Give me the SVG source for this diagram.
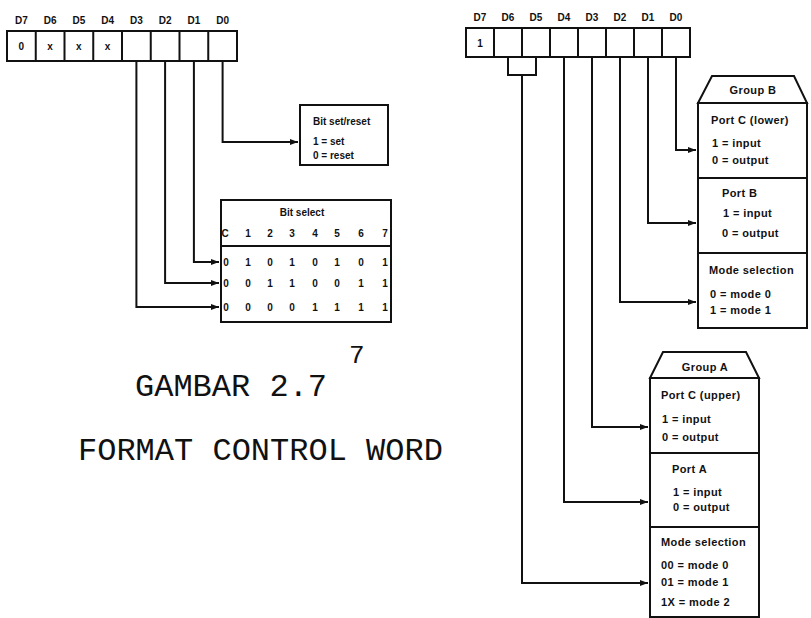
<svg xmlns="http://www.w3.org/2000/svg" width="811" height="618" viewBox="0 0 811 618">
<style>
.bx{fill:none;stroke:#111;stroke-width:2}
.ln{fill:none;stroke:#111;stroke-width:2}
.t{font-family:"Liberation Sans",Arial,sans-serif;font-weight:bold;fill:#111}
.s10{font-size:10px}
.s11{font-size:11px;letter-spacing:0.4px}
.c{text-anchor:middle}
.cap{font-family:"Liberation Mono","Courier New",monospace;fill:#111;font-size:32px}
</style>
<defs>
<marker id="ah" markerWidth="8" markerHeight="6" refX="8" refY="3" orient="auto" markerUnits="userSpaceOnUse"><path d="M0,0 L8,3 L0,6 z" fill="#111"/></marker>
</defs>
<rect width="811" height="618" fill="#fff"/>

<g id="reg-left">
<rect class="bx" x="7" y="31" width="230" height="30"/>
<path class="ln" d="M35.75,31V61M64.5,31V61M93.25,31V61M122,31V61M150.75,31V61M179.5,31V61M208.25,31V61"/>
<g class="t s10 c">
<text x="21.4" y="24">D7</text><text x="50.1" y="24">D6</text><text x="78.9" y="24">D5</text><text x="107.6" y="24">D4</text>
<text x="136.4" y="24">D3</text><text x="165.1" y="24">D2</text><text x="193.9" y="24">D1</text><text x="222.6" y="24">D0</text>
<text x="21.4" y="50">0</text><text x="50.1" y="50">x</text><text x="78.9" y="50">x</text><text x="107.6" y="50">x</text>
</g>
</g>

<g id="bit-set-reset">
<rect class="bx" x="300" y="105" width="88" height="60"/>
<g class="t s10"><text x="313" y="125">Bit set/reset</text><text x="313" y="145">1 = set</text><text x="313" y="159">0 = reset</text></g>
</g>

<g id="bit-select">
<rect class="bx" x="221" y="200" width="170" height="122"/>
<path class="ln" d="M221,246H391"/>
<g class="t s10 c">
<text x="302" y="216">Bit select</text>
<text x="225" y="237">C</text><text x="248" y="237">1</text><text x="270" y="237">2</text><text x="292" y="237">3</text><text x="315" y="237">4</text><text x="337" y="237">5</text><text x="361" y="237">6</text><text x="385" y="237">7</text>
<text x="226" y="266">0</text><text x="248" y="266">1</text><text x="270" y="266">0</text><text x="292" y="266">1</text><text x="315" y="266">0</text><text x="337" y="266">1</text><text x="361" y="266">0</text><text x="385" y="266">1</text>
<text x="226" y="287">0</text><text x="248" y="287">0</text><text x="270" y="287">1</text><text x="292" y="287">1</text><text x="315" y="287">0</text><text x="337" y="287">0</text><text x="361" y="287">1</text><text x="385" y="287">1</text>
<text x="226" y="311">0</text><text x="248" y="311">0</text><text x="270" y="311">0</text><text x="292" y="311">0</text><text x="315" y="311">1</text><text x="337" y="311">1</text><text x="361" y="311">1</text><text x="385" y="311">1</text>
</g>
</g>

<g id="reg-right">
<rect class="bx" x="466" y="28" width="224" height="29"/>
<path class="ln" d="M494,28V57M522,28V57M550,28V57M578,28V57M606,28V57M634,28V57M662,28V57"/>
<g class="t s10 c">
<text x="480" y="21">D7</text><text x="508" y="21">D6</text><text x="536" y="21">D5</text><text x="564" y="21">D4</text>
<text x="592" y="21">D3</text><text x="620" y="21">D2</text><text x="648" y="21">D1</text><text x="676" y="21">D0</text>
<text x="480" y="47">1</text>
</g>
</g>

<g id="group-b">
<path class="bx" d="M712,76H794L807,103H698Z"/>
<rect class="bx" x="698" y="103" width="109" height="225"/>
<path class="ln" d="M698,178H807M698,253H807"/>
<g class="t s11">
<text x="753" y="94" class="c">Group B</text>
<text x="711" y="124">Port C (lower)</text>
<text x="712" y="147">1 = input</text>
<text x="712" y="164">0 = output</text>
<text x="722" y="197">Port B</text>
<text x="723" y="217">1 = input</text>
<text x="722" y="237">0 = output</text>
<text x="709" y="274">Mode selection</text>
<text x="710" y="298">0 = mode 0</text>
<text x="710" y="314">1 = mode 1</text>
</g>
</g>

<g id="group-a">
<path class="bx" d="M663,352H746L759,378H650Z"/>
<rect class="bx" x="650" y="378" width="109" height="239"/>
<path class="ln" d="M650,453H759M650,527H759"/>
<g class="t s11">
<text x="705" y="371" class="c">Group A</text>
<text x="661" y="399">Port C (upper)</text>
<text x="662" y="423">1 = input</text>
<text x="662" y="441">0 = output</text>
<text x="672" y="473">Port A</text>
<text x="673" y="496">1 = input</text>
<text x="673" y="511">0 = output</text>
<text x="661" y="546">Mode selection</text>
<text x="661" y="569">00 = mode 0</text>
<text x="661" y="586">01 = mode 1</text>
<text x="661" y="606">1X = mode 2</text>
</g>
</g>

<g id="connectors">
<path class="ln" marker-end="url(#ah)" d="M222.6,61V142H298"/>
<path class="ln" marker-end="url(#ah)" d="M193.9,61V262H219"/>
<path class="ln" marker-end="url(#ah)" d="M165.1,61V283H219"/>
<path class="ln" marker-end="url(#ah)" d="M136.4,61V307H219"/>
<path class="ln" d="M508,57V75H536V57"/>
<path class="ln" marker-end="url(#ah)" d="M522,75V583H648"/>
<path class="ln" marker-end="url(#ah)" d="M564,57V502H648"/>
<path class="ln" marker-end="url(#ah)" d="M592,57V427H648"/>
<path class="ln" marker-end="url(#ah)" d="M620,57V302H696"/>
<path class="ln" marker-end="url(#ah)" d="M648,57V223H696"/>
<path class="ln" marker-end="url(#ah)" d="M676,57V150H696"/>
</g>

<g id="caption">
<text class="cap" x="349" y="363" style="font-size:26px">7</text>
<text class="cap" x="135" y="396">GAMBAR 2.7</text>
<text class="cap" x="78" y="460">FORMAT CONTROL WORD</text>
</g>
</svg>
